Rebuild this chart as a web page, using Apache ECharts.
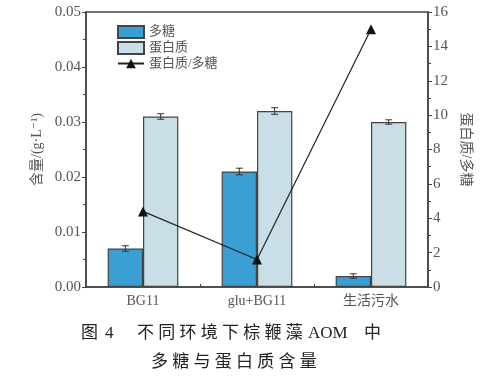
<!DOCTYPE html>
<html><head><meta charset="utf-8">
<script src="https://cdn.jsdelivr.net/npm/echarts@6/dist/echarts.min.js"></script>
<style>html,body{margin:0;padding:0;background:#fff}#c{width:486px;height:383px}</style>
</head><body><div id="c"></div>
<script>
const categories = ['BG11', 'glu+BG11', '生活污水'];
const polysaccharide = [0.007, 0.021, 0.002];
const polysaccharideErr = [0.0005, 0.0006, 0.0004];
const protein = [0.031, 0.032, 0.030];
const proteinErr = [0.0005, 0.0006, 0.0004];
const ratio = [4.4, 1.6, 15.0];
const leftTicks = [0, 0.01, 0.02, 0.03, 0.04, 0.05];
const rightTicks = [0, 2, 4, 6, 8, 10, 12, 14, 16];

const serif = '"Liberation Serif","DejaVu Serif","Noto Sans CJK SC",serif';
const axisColor = '#444';
const textColor = '#555';
const GAP = 0.38;

function errSeries(vals, errs, side) {
  return {
    type: 'custom', yAxisIndex: 0, z: 5, silent: true,
    data: vals.map((v, i) => [i, v, errs[i]]),
    renderItem: function (params, api) {
      const i = api.value(0), v = api.value(1), e = api.value(2);
      const band = api.size([1, 0])[0];
      const off = side * band * (1 - GAP) / 4;
      const hi = api.coord([i, v + e]), lo = api.coord([i, v - e]);
      const x = hi[0] + off, cw = 3.5;
      const st = { stroke: '#333', lineWidth: 1 };
      return { type: 'group', children: [
        { type: 'line', shape: { x1: x, y1: hi[1], x2: x, y2: lo[1] }, style: st },
        { type: 'line', shape: { x1: x - cw, y1: hi[1], x2: x + cw, y2: hi[1] }, style: st },
        { type: 'line', shape: { x1: x - cw, y1: lo[1], x2: x + cw, y2: lo[1] }, style: st }
      ]};
    }
  };
}

const chart = echarts.init(document.getElementById('c'));
const capStyle = { fill: '#222', fontSize: 17, fontFamily: serif };
chart.setOption({
  backgroundColor: '#fff',
  animation: false,
  grid: { left: 86, right: 58, top: 12, bottom: 96, show: true, borderColor: axisColor, borderWidth: 1.5 },
  legend: {
    orient: 'vertical', left: 117, top: 25, padding: 0, itemWidth: 26, itemHeight: 12, itemGap: 2,
    data: [{ name: '多糖', icon: 'rect' }, { name: '蛋白质', icon: 'rect' }, { name: '蛋白质/多糖' }],
    textStyle: { color: textColor, fontSize: 13, fontFamily: serif }
  },
  xAxis: {
    type: 'category', data: categories,
    axisLine: { lineStyle: { color: axisColor, width: 1.5 } },
    axisTick: { show: true, inside: true, length: 3, lineStyle: { color: axisColor } },
    axisLabel: { color: textColor, fontSize: 14, fontFamily: serif, margin: 7 }
  },
  yAxis: [{
    type: 'value', min: 0, max: 0.05, interval: 0.01,
    name: '含量/(g·L⁻¹)', nameLocation: 'middle', nameGap: 42, nameRotate: 90,
    nameTextStyle: { color: textColor, fontSize: 14, fontFamily: serif },
    axisLine: { show: true, lineStyle: { color: axisColor, width: 1.5 } },
    axisTick: { show: true, length: 4, lineStyle: { color: axisColor } },
    minorTick: { show: true, splitNumber: 2, length: 3, lineStyle: { color: axisColor } },
    splitLine: { show: false },
    axisLabel: { color: textColor, fontSize: 15, fontFamily: serif, margin: 5,
      formatter: v => v.toFixed(2) }
  }, {
    type: 'value', min: 0, max: 16, interval: 2, position: 'right',
    name: '蛋白质/多糖', nameLocation: 'middle', nameGap: 31, nameRotate: -90,
    nameTextStyle: { color: textColor, fontSize: 14, fontFamily: serif },
    axisLine: { show: true, lineStyle: { color: axisColor, width: 1.5 } },
    axisTick: { show: true, length: 4, lineStyle: { color: axisColor } },
    minorTick: { show: true, splitNumber: 2, length: 3, lineStyle: { color: axisColor } },
    splitLine: { show: false },
    axisLabel: { color: textColor, fontSize: 15, fontFamily: serif, margin: 5 }
  }],
  series: [
    { name: '多糖', type: 'bar', data: polysaccharide, barGap: '0%', barCategoryGap: (GAP * 100) + '%',
      itemStyle: { color: '#3a9fd2', borderColor: '#444', borderWidth: 1.2 } },
    { name: '蛋白质', type: 'bar', data: protein, barGap: '0%', barCategoryGap: (GAP * 100) + '%',
      itemStyle: { color: '#c9dee6', borderColor: '#444', borderWidth: 1.2 } },
    errSeries(polysaccharide, polysaccharideErr, -1),
    errSeries(protein, proteinErr, 1),
    { name: '蛋白质/多糖', type: 'line', yAxisIndex: 1, data: ratio, z: 10,
      symbol: 'triangle', symbolSize: 10,
      lineStyle: { color: '#222', width: 1.2 }, itemStyle: { color: '#111' } }
  ],
  graphic: [
    { type: 'text', left: 81, top: 325, style: Object.assign({ text: '图' }, capStyle) },
    { type: 'text', left: 105, top: 325, style: Object.assign({ text: '4' }, capStyle) },
    { type: 'text', left: 137, top: 325,
      style: Object.assign({ text: '不\u2005同\u2005环\u2005境\u2005下\u2005棕\u2005鞭\u2005藻' }, capStyle) },
    { type: 'text', left: 308, top: 325, style: Object.assign({ text: 'AOM' }, capStyle) },
    { type: 'text', left: 364, top: 325, style: Object.assign({ text: '中' }, capStyle) },
    { type: 'text', left: 151, top: 354,
      style: Object.assign({ text: '多\u2005糖\u2005与\u2005蛋\u2005白\u2005质\u2005含\u2005量' }, capStyle) }
  ]
});
</script></body></html>
